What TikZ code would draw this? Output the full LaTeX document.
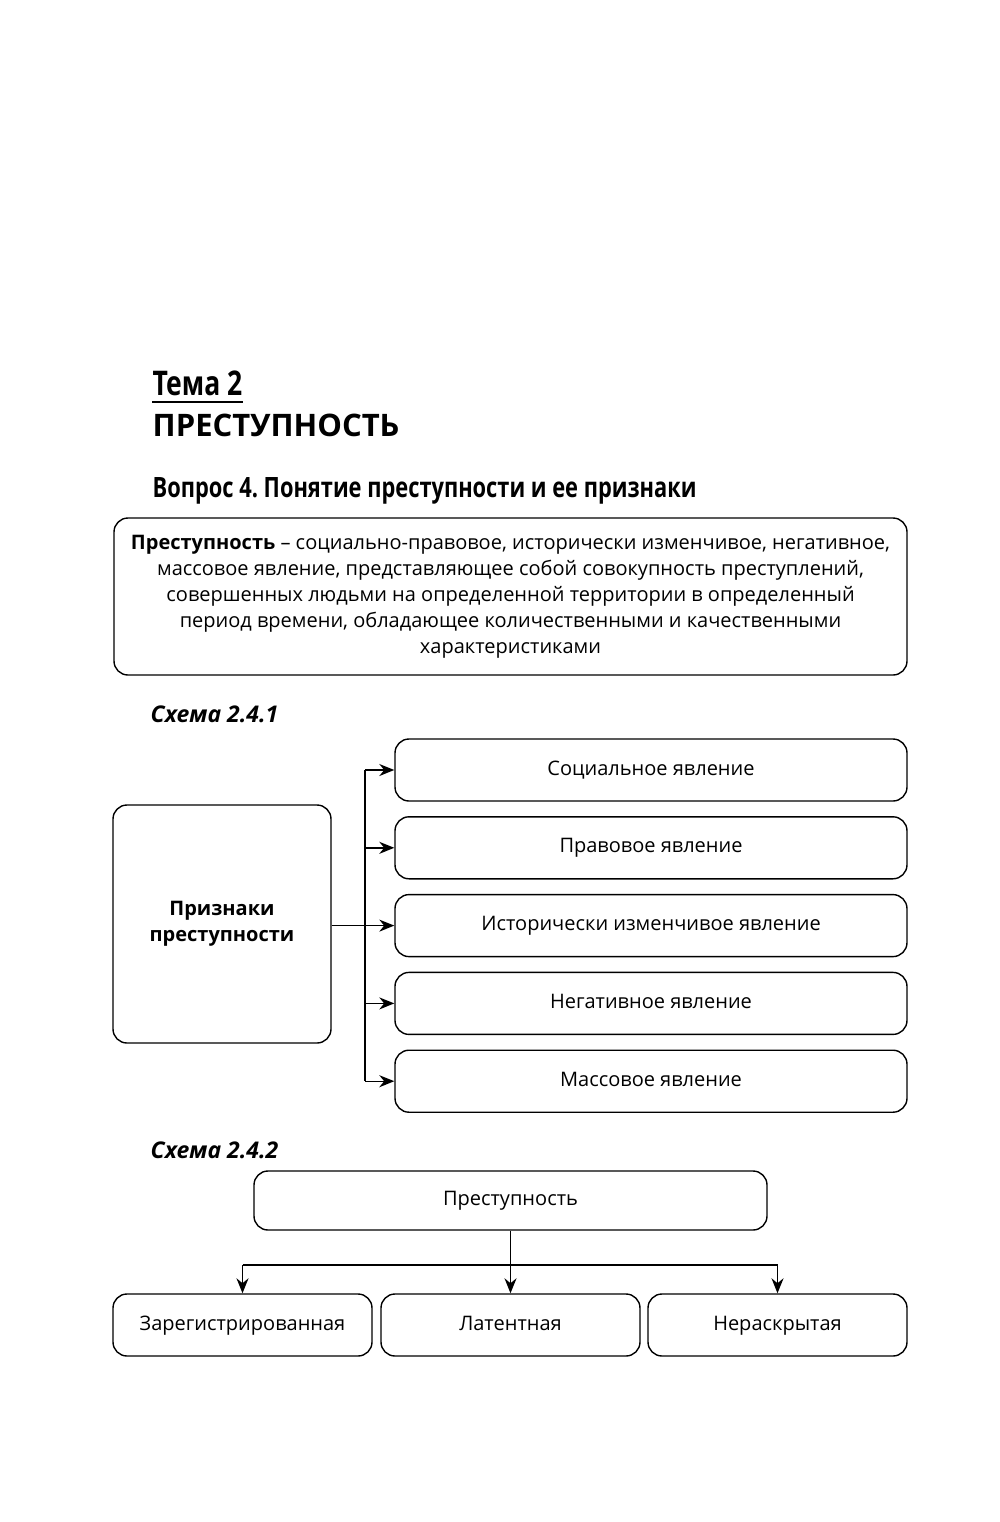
\documentclass[tikz,border=0pt]{standalone}
\usepackage{fontspec}
\setmainfont{Open Sans}
\newfontfamily\narrowfont[FakeStretch = 0.78]{Open Sans}
\usetikzlibrary{positioning, arrows.meta}

\begin{document}
\begin{tikzpicture}[x = 0.5pt, y = -0.5pt, line width = 0.7pt, font = \fontsize{10}{13}\selectfont, >= {Stealth[length = 7.5pt, width = 6pt]},
  box/.style = {draw, rounded corners = 7pt, align = center, inner sep = 0pt},
  sign/.style = {box, minimum width = 256pt, minimum height = 31pt, text height = 7.5pt, text depth = 2.5pt},
  kind/.style = {box, minimum width = 129.5pt, minimum height = 31pt, text height = 7.5pt, text depth = 2.5pt},
  heading/.style = {anchor = base west, inner sep = 0pt}]
  \useasboundingbox (0, 0) rectangle (1000, 1522);

  % headings
  \node (topic) [heading, font = \narrowfont\bfseries\fontsize{17}{20}\selectfont] at (152, 395) {Тема 2};
  \draw ([yshift = -3.5pt]topic.base west) -- ([yshift = -3.5pt]topic.base east);
  \node (title) [heading, font = \bfseries\fontsize{15.5}{20}\selectfont] at (152, 436) {ПРЕСТУПНОСТЬ};
  \node (question) [heading, font = \narrowfont\bfseries\fontsize{14}{17}\selectfont] at (152, 497) {Вопрос 4.\ Понятие преступности и ее признаки};

  \node (definition) [box, minimum width = 396.5pt, minimum height = 78.5pt] at (510.5, 596.5)
    {\textbf{Преступность} – социально-правовое, исторически изменчивое, негативное,\\
     массовое явление, представляющее собой совокупность преступлений,\\
     совершенных людьми на определенной территории в определенный\\
     период времени, обладающее количественными и качественными\\
     характеристиками};

  % scheme 2.4.1
  \node (scheme1) [heading, font = \bfseries\itshape\fontsize{11.5}{14}\selectfont] at (150, 722) {Схема 2.4.1};
  \node (signs) [box, minimum width = 109pt, minimum height = 119pt, font = \bfseries\fontsize{10}{13}\selectfont] at (222, 924) {Признаки\\преступности};
  \node (social) [sign] at (651, 770) {Социальное явление};
  \node (legal) [sign, below = 7.2pt of social] {Правовое явление};
  \node (historic) [sign, below = 7.2pt of legal] {Исторически изменчивое явление};
  \node (negative) [sign, below = 7.2pt of historic] {Негативное явление};
  \node (mass) [sign, below = 7.2pt of negative] {Массовое явление};
  \coordinate (fork) at (365, 926);

  \draw (signs.east |- historic) -- (fork |- historic);
  \draw (fork |- social) -- (fork |- mass);
  \foreach \n in {social, legal, historic, negative, mass}
    \draw [->] (fork |- \n) -- (\n.west);

  % scheme 2.4.2
  \node (scheme2) [heading, font = \bfseries\itshape\fontsize{11.5}{14}\selectfont] at (150, 1158) {Схема 2.4.2};
  \node (crime) [box, minimum width = 256.5pt, minimum height = 29.5pt, text height = 7.5pt, text depth = 2.5pt] at (510.5, 1200.5) {Преступность};
  \node (registered) [kind] at (242.5, 1325) {Зарегистрированная};
  \node (latent) [kind] at (510.5, 1325) {Латентная};
  \node (unsolved) [kind] at (777.5, 1325) {Нераскрытая};
  \coordinate (split) at (510.5, 1265);

  \draw [->] (crime) -- (latent);
  \draw (split -| registered) -- (split -| unsolved);
  \draw [->] (split -| registered) -- (registered.north);
  \draw [->] (split -| unsolved) -- (unsolved.north);
\end{tikzpicture}
\end{document}
